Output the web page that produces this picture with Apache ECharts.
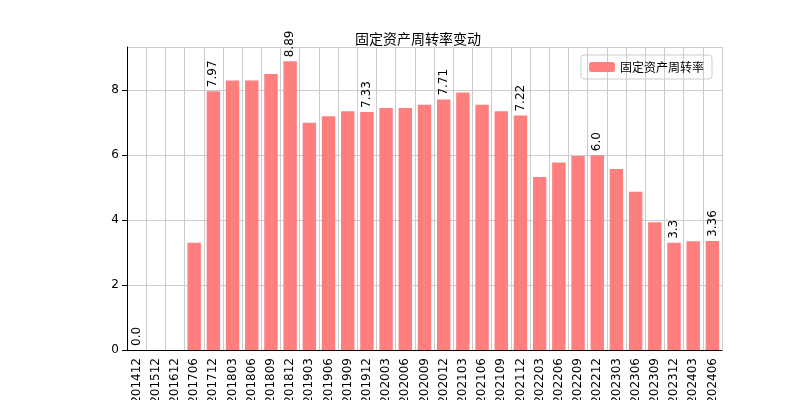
<!DOCTYPE html>
<html><head><meta charset="utf-8">
<script src="https://cdn.jsdelivr.net/npm/echarts@6/dist/echarts.min.js"></script>
<style>html,body{margin:0;padding:0;background:#fff}#c{width:800px;height:400px}</style>
</head><body><div id="c"></div>
<script>
const categories=['201412','201512','201612','201706','201712','201803','201806','201809','201812','201903','201906','201909','201912','202003','202006','202009','202012','202103','202106','202109','202112','202203','202206','202209','202212','202303','202306','202309','202312','202403','202406'];
const values=[0,0,0,3.3,7.97,8.3,8.3,8.5,8.89,7.0,7.2,7.35,7.33,7.45,7.45,7.55,7.71,7.93,7.55,7.35,7.22,5.33,5.77,5.97,6.0,5.57,4.87,3.93,3.3,3.35,3.36];
const labelIdx=[0,4,8,12,16,20,24,28,30];
const labelText={0:'0.0',4:'7.97',8:'8.89',12:'7.33',16:'7.71',20:'7.22',24:'6.0',28:'3.3',30:'3.36'};
const font='"DejaVu Sans", sans-serif';
const chart=echarts.init(document.getElementById('c'));
chart.setOption({
  animation:false,
  title:{text:'固定资产周转率变动',left:413,top:27,textAlign:'center',textStyle:{fontFamily:'"Noto Sans CJK SC"',fontSize:14,fontWeight:'normal',color:'#000'}},
  legend:{right:88,top:55,itemWidth:26,itemHeight:10,borderColor:'#ccc',borderWidth:1,borderRadius:3,padding:[6,8],
    textStyle:{fontFamily:'"Noto Sans CJK SC"',fontSize:12,color:'#000'},data:['固定资产周转率']},
  grid:{left:127,right:78,top:47,bottom:50,containLabel:false,outerBoundsMode:'none'},
  xAxis:{type:'category',data:categories,boundaryGap:true,
    axisLine:{lineStyle:{color:'#000'}},axisTick:{alignWithLabel:true,lineStyle:{color:'#000'}},
    axisLabel:{rotate:90,interval:0,color:'#000',fontFamily:font,fontSize:12},
    splitLine:{show:true,interval:0,lineStyle:{color:'#ccc'}}},
  yAxis:{type:'value',min:0,max:9.33,interval:2,
    axisLine:{show:true,lineStyle:{color:'#000'}},axisTick:{show:true,lineStyle:{color:'#000'}},
    axisLabel:{color:'#000',fontFamily:font,fontSize:12,showMaxLabel:false},
    splitLine:{lineStyle:{color:'#ccc'}}},
  series:[{name:'固定资产周转率',type:'bar',barWidth:'70%',itemStyle:{color:'#ff7f7f'},
    data:values.map((v,i)=>({value:v,label:{show:labelIdx.includes(i)}})),
    label:{position:'top',rotate:90,align:'left',verticalAlign:'middle',distance:4,color:'#000',fontFamily:font,fontSize:12,
      formatter:p=>labelText[p.dataIndex]}}]
});
</script></body></html>
